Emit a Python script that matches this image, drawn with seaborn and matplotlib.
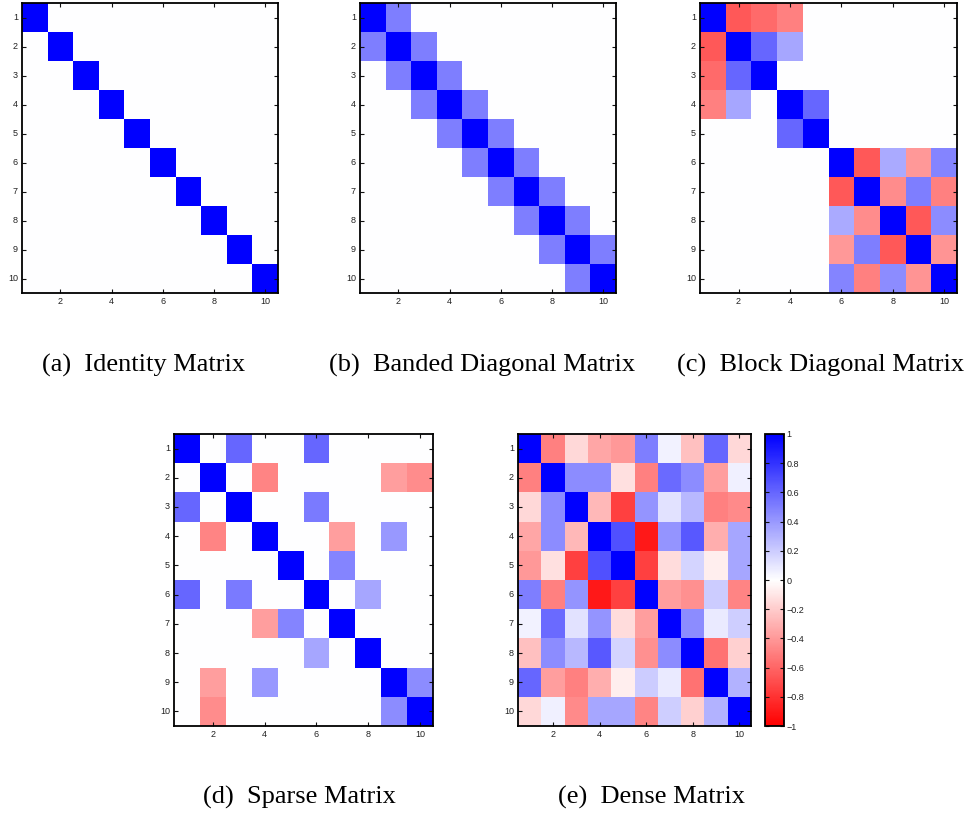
import numpy as np
import matplotlib
matplotlib.use("Agg")
import matplotlib.pyplot as plt
from matplotlib.colors import LinearSegmentedColormap
import seaborn as sns

# ---- data -------------------------------------------------------------
row_labels = ["1", "2", "3", "4", "5", "6", "7", "8", "9", "10"]
col_tick_labels = ["2", "4", "6", "8", "10"]

identity_diag = [1, 1, 1, 1, 1, 1, 1, 1, 1, 1]

banded_diag = [1, 1, 1, 1, 1, 1, 1, 1, 1, 1]
banded_off = [0.5, 0.5, 0.5, 0.5, 0.5, 0.5, 0.5, 0.5, 0.5]

block_matrix = [
    [1.00, -0.65, -0.58, -0.50, 0.00, 0.00, 0.00, 0.00, 0.00, 0.00],
    [-0.65, 1.00, 0.60, 0.35, 0.00, 0.00, 0.00, 0.00, 0.00, 0.00],
    [-0.58, 0.60, 1.00, 0.00, 0.00, 0.00, 0.00, 0.00, 0.00, 0.00],
    [-0.50, 0.35, 0.00, 1.00, 0.60, 0.00, 0.00, 0.00, 0.00, 0.00],
    [0.00, 0.00, 0.00, 0.60, 1.00, 0.00, 0.00, 0.00, 0.00, 0.00],
    [0.00, 0.00, 0.00, 0.00, 0.00, 1.00, -0.65, 0.33, -0.40, 0.48],
    [0.00, 0.00, 0.00, 0.00, 0.00, -0.65, 1.00, -0.45, 0.50, -0.50],
    [0.00, 0.00, 0.00, 0.00, 0.00, 0.33, -0.45, 1.00, -0.65, 0.45],
    [0.00, 0.00, 0.00, 0.00, 0.00, -0.40, 0.50, -0.65, 1.00, -0.42],
    [0.00, 0.00, 0.00, 0.00, 0.00, 0.48, -0.50, 0.45, -0.42, 1.00],
]

sparse_matrix = [
    [1.00, 0.00, 0.60, 0.00, 0.00, 0.60, 0.00, 0.00, 0.00, 0.00],
    [0.00, 1.00, 0.00, -0.48, 0.00, 0.00, 0.00, 0.00, -0.38, -0.45],
    [0.60, 0.00, 1.00, 0.00, 0.00, 0.52, 0.00, 0.00, 0.00, 0.00],
    [0.00, -0.48, 0.00, 1.00, 0.00, 0.00, -0.38, 0.00, 0.40, 0.00],
    [0.00, 0.00, 0.00, 0.00, 1.00, 0.00, 0.48, 0.00, 0.00, 0.00],
    [0.60, 0.00, 0.52, 0.00, 0.00, 1.00, 0.00, 0.35, 0.00, 0.00],
    [0.00, 0.00, 0.00, -0.38, 0.48, 0.00, 1.00, 0.00, 0.00, 0.00],
    [0.00, 0.00, 0.00, 0.00, 0.00, 0.35, 0.00, 1.00, 0.00, 0.00],
    [0.00, -0.38, 0.00, 0.40, 0.00, 0.00, 0.00, 0.00, 1.00, 0.45],
    [0.00, -0.45, 0.00, 0.00, 0.00, 0.00, 0.00, 0.00, 0.45, 1.00],
]

dense_matrix = [
    [1.00, -0.50, -0.15, -0.35, -0.40, 0.50, 0.05, -0.25, 0.60, -0.15],
    [-0.50, 1.00, 0.45, 0.45, -0.12, -0.50, 0.58, 0.45, -0.38, 0.06],
    [-0.15, 0.45, 1.00, -0.28, -0.75, 0.42, 0.11, 0.28, -0.50, -0.46],
    [-0.35, 0.45, -0.28, 1.00, 0.68, -0.90, 0.42, 0.65, -0.32, 0.35],
    [-0.40, -0.12, -0.75, 0.68, 1.00, -0.75, -0.14, 0.17, -0.07, 0.35],
    [0.50, -0.50, 0.42, -0.90, -0.75, 1.00, -0.38, -0.43, 0.20, -0.48],
    [0.05, 0.58, 0.11, 0.42, -0.14, -0.38, 1.00, 0.45, 0.08, 0.19],
    [-0.25, 0.45, 0.28, 0.65, 0.17, -0.43, 0.45, 1.00, -0.55, -0.18],
    [0.60, -0.38, -0.50, -0.32, -0.07, 0.20, 0.08, -0.55, 1.00, 0.30],
    [-0.15, 0.06, -0.46, 0.35, 0.35, -0.48, 0.19, -0.18, 0.30, 1.00],
]

colorbar_ticks = [-1.0, -0.8, -0.6, -0.4, -0.2, 0.0, 0.2, 0.4, 0.6, 0.8, 1.0]

captions = [
    "(a)  Identity Matrix",
    "(b)  Banded Diagonal Matrix",
    "(c)  Block Diagonal Matrix",
    "(d)  Sparse Matrix",
    "(e)  Dense Matrix",
]

# ---- matrices built from the lists above -------------------------------
identity = np.diag(identity_diag).astype(float)
banded = (np.diag(banded_diag) + np.diag(banded_off, 1)
          + np.diag(banded_off, -1)).astype(float)
block = np.array(block_matrix)
sparse = np.array(sparse_matrix)
dense = np.array(dense_matrix)

# red - white - blue map over [-1, 1]
rwb = LinearSegmentedColormap.from_list("rwb", ["#ff0000", "#ffffff", "#0000ff"])

W, H = 968, 816
fig = plt.figure(figsize=(W / 100, H / 100), dpi=100)
fig.patch.set_facecolor("white")

TICK_FONT = {"family": "Liberation Sans", "size": 6.5}


def px_axes(left, top, right, bottom):
    return fig.add_axes([left / W, 1 - bottom / H, (right - left) / W,
                         (bottom - top) / H])


def style_axes(ax):
    n = 10
    ax.set_xlim(0, n)
    ax.set_ylim(n, 0)
    ax.set_xticks([int(t) - 0.5 for t in col_tick_labels])
    ax.set_xticklabels(col_tick_labels, fontdict=TICK_FONT, rotation=0)
    ax.set_yticks([i + 0.5 for i in range(n)])
    ax.set_yticklabels(row_labels, fontdict=TICK_FONT, rotation=0)
    ax.tick_params(direction="in", length=3, width=0.8, top=True, right=True,
                   labeltop=False, labelright=False, pad=3, colors="#111111",
                   labelcolor="#222222")
    ax.set_xlabel("")
    ax.set_ylabel("")
    for sp in ax.spines.values():
        sp.set_visible(True)
        sp.set_linewidth(1.3)
        sp.set_color("black")


panels = [
    (identity, (22, 3, 278, 293)),
    (banded, (360, 3, 616, 293)),
    (block, (700, 3, 957, 293)),
    (sparse, (174, 434, 433, 726)),
]

for data, box in panels:
    ax = px_axes(*box)
    sns.heatmap(data, ax=ax, cmap=rwb, vmin=-1, vmax=1, cbar=False)
    style_axes(ax)

# dense matrix with its colorbar
ax_e = px_axes(518, 434, 751, 726)
cax = px_axes(765, 434, 784, 726)
sns.heatmap(dense, ax=ax_e, cmap=rwb, vmin=-1, vmax=1, cbar=True, cbar_ax=cax)
style_axes(ax_e)
cbar = ax_e.collections[0].colorbar
cbar.set_ticks(colorbar_ticks)
cbar.set_ticklabels([("%g" % t).replace("-", "\u2212") for t in colorbar_ticks])
cbar.outline.set_visible(True)
cbar.outline.set_linewidth(1.3)
cbar.outline.set_edgecolor("black")
cax.tick_params(direction="in", length=3, width=0.8, left=True, right=True,
                labelsize=6.5, pad=2, colors="#111111", labelcolor="#222222")
for lbl in cax.get_yticklabels():
    lbl.set_fontfamily("Liberation Sans")

# captions
CAP_FONT = {"family": "Liberation Serif", "size": 19}
cap_pos = [(144, 365), (482, 365), (821, 365), (299, 797), (652, 797)]
for text, (x, y) in zip(captions, cap_pos):
    fig.text(x / W, 1 - y / H, text, ha="center", va="center", fontdict=CAP_FONT)

fig.savefig("out.png", dpi=100, facecolor="white")
